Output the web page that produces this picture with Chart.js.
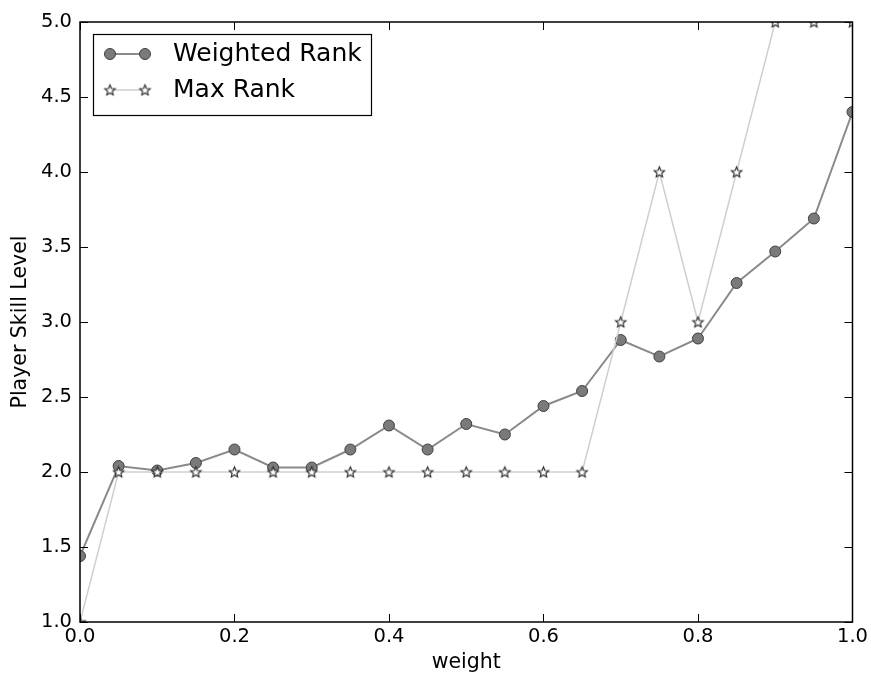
<!DOCTYPE html>
<html>
<head>
<meta charset="utf-8">
<script src="https://cdn.jsdelivr.net/npm/chart.js@4/dist/chart.umd.min.js"></script>
<style>
  html, body { margin: 0; padding: 0; background: #fff; }
  canvas { display: block; }
</style>
</head>
<body>
<canvas id="chart" width="871" height="675"></canvas>
<script>
const weights = [0.0, 0.05, 0.1, 0.15, 0.2, 0.25, 0.3, 0.35, 0.4, 0.45, 0.5, 0.55, 0.6, 0.65, 0.7, 0.75, 0.8, 0.85, 0.9, 0.95, 1.0];
const weightedRank = [1.44, 2.04, 2.01, 2.06, 2.15, 2.03, 2.03, 2.15, 2.31, 2.15, 2.32, 2.25, 2.44, 2.54, 2.88, 2.77, 2.89, 3.26, 3.47, 3.69, 4.40];
const maxRank = [1, 2, 2, 2, 2, 2, 2, 2, 2, 2, 2, 2, 2, 2, 3, 4, 3, 4, 5, 5, 5];
const seriesNames = ['Weighted Rank', 'Max Rank'];
const xTicks = [0.0, 0.2, 0.4, 0.6, 0.8, 1.0];
const yTicks = [1.0, 1.5, 2.0, 2.5, 3.0, 3.5, 4.0, 4.5, 5.0];

const FONT = "'DejaVu Sans', sans-serif";

// five point star marker, white with dark edge
function makeStar(r) {
  const c = document.createElement('canvas');
  const s = Math.ceil(r * 2 + 4);
  c.width = s; c.height = s;
  const g = c.getContext('2d');
  const cx = s / 2, cy = s / 2 + 0.5;
  g.beginPath();
  for (let i = 0; i < 10; i++) {
    const rad = i % 2 === 0 ? r : r * 0.45;
    const a = -Math.PI / 2 + i * Math.PI / 5;
    const px = cx + rad * Math.cos(a), py = cy + rad * Math.sin(a);
    if (i === 0) g.moveTo(px, py); else g.lineTo(px, py);
  }
  g.closePath();
  g.fillStyle = '#fff';
  g.fill();
  g.lineWidth = 1.1;
  g.strokeStyle = '#222';
  g.stroke();
  return c;
}
const starImg = makeStar(5.5);

const framePlugin = {
  id: 'frame',
  afterDraw(chart) {
    const { ctx, chartArea: a, scales } = chart;
    ctx.save();
    // inward ticks on all four sides
    ctx.strokeStyle = '#000';
    ctx.lineWidth = 1;
    const tl = 8;
    xTicks.forEach(v => {
      const x = Math.round(scales.x.getPixelForValue(v)) + 0.5;
      ctx.beginPath();
      ctx.moveTo(x, a.bottom); ctx.lineTo(x, a.bottom - tl);
      ctx.moveTo(x, a.top); ctx.lineTo(x, a.top + tl);
      ctx.stroke();
    });
    yTicks.forEach(v => {
      const y = Math.round(scales.y.getPixelForValue(v)) + 0.5;
      ctx.beginPath();
      ctx.moveTo(a.left, y); ctx.lineTo(a.left + tl, y);
      ctx.moveTo(a.right, y); ctx.lineTo(a.right - tl, y);
      ctx.stroke();
    });
    // frame
    ctx.lineWidth = 1.5;
    ctx.strokeRect(a.left, a.top, a.right - a.left, a.bottom - a.top);

    // legend
    const lx = a.left + 13, ly = a.top + 12, lw = 278, lh = 81;
    ctx.fillStyle = '#fff';
    ctx.fillRect(lx, ly, lw, lh);
    ctx.lineWidth = 1.2;
    ctx.strokeStyle = '#000';
    ctx.strokeRect(lx + 0.5, ly + 0.5, lw, lh);

    const rows = [ly + 20, ly + 56];
    const m1 = lx + 17, m2 = lx + 52;
    // weighted rank entry
    ctx.strokeStyle = '#8a8a8a';
    ctx.lineWidth = 2;
    ctx.beginPath(); ctx.moveTo(m1, rows[0]); ctx.lineTo(m2, rows[0]); ctx.stroke();
    [m1, m2].forEach(mx => {
      ctx.beginPath();
      ctx.arc(mx, rows[0], 5.5, 0, Math.PI * 2);
      ctx.fillStyle = '#7a7a7a';
      ctx.fill();
      ctx.lineWidth = 1;
      ctx.strokeStyle = '#404040';
      ctx.stroke();
    });
    // max rank entry
    ctx.strokeStyle = '#cfcfcf';
    ctx.lineWidth = 1.5;
    ctx.beginPath(); ctx.moveTo(m1, rows[1]); ctx.lineTo(m2, rows[1]); ctx.stroke();
    [m1, m2].forEach(mx => {
      ctx.drawImage(starImg, mx - starImg.width / 2, rows[1] - starImg.height / 2);
    });

    ctx.fillStyle = '#000';
    ctx.font = '25px ' + FONT;
    ctx.textBaseline = 'middle';
    ctx.textAlign = 'left';
    ctx.fillText(seriesNames[0], lx + 80, rows[0]);
    ctx.fillText(seriesNames[1], lx + 80, rows[1]);
    ctx.restore();
  }
};

const ctx = document.getElementById('chart').getContext('2d');
new Chart(ctx, {
  type: 'line',
  data: {
    datasets: [
      {
        label: seriesNames[0],
        data: weights.map((w, i) => ({ x: w, y: weightedRank[i] })),
        borderColor: '#8a8a8a',
        borderWidth: 2,
        pointRadius: 5.5,
        pointBackgroundColor: '#7a7a7a',
        pointBorderColor: '#404040',
        pointBorderWidth: 1,
        tension: 0,
        order: 1
      },
      {
        label: seriesNames[1],
        data: weights.map((w, i) => ({ x: w, y: maxRank[i] })),
        borderColor: '#cfcfcf',
        borderWidth: 1.5,
        pointStyle: starImg,
        tension: 0,
        order: 0
      }
    ]
  },
  options: {
    responsive: false,
    animation: false,
    devicePixelRatio: 1,
    layout: { padding: { left: 0, top: 22, right: 17, bottom: 0 } },
    plugins: {
      legend: { display: false },
      tooltip: { enabled: false }
    },
    scales: {
      x: {
        type: 'linear',
        min: 0, max: 1,
        afterFit: s => { s.height = 53; },
        afterBuildTicks: s => { s.ticks = xTicks.map(v => ({ value: v })); },
        grid: { display: false, drawTicks: false },
        border: { display: false },
        ticks: {
          padding: 3,
          color: '#000',
          font: { family: FONT, size: 19.5 },
          callback: v => Number(v).toFixed(1),
          maxRotation: 0
        },
        title: {
          display: true,
          text: 'weight',
          color: '#000',
          font: { family: FONT, size: 20.5 },
          padding: { top: 0, bottom: 0 }
        }
      },
      y: {
        type: 'linear',
        min: 1, max: 5,
        afterFit: s => { s.width = 80; },
        afterBuildTicks: s => { s.ticks = yTicks.map(v => ({ value: v })); },
        grid: { display: false, drawTicks: false },
        border: { display: false },
        ticks: {
          padding: 8,
          color: '#000',
          font: { family: FONT, size: 19.5 },
          callback: v => Number(v).toFixed(1)
        },
        title: {
          display: true,
          text: 'Player Skill Level',
          color: '#000',
          font: { family: FONT, size: 20.5 },
          padding: { top: 8, bottom: 0 }
        }
      }
    }
  },
  plugins: [framePlugin]
});
</script>
</body>
</html>
